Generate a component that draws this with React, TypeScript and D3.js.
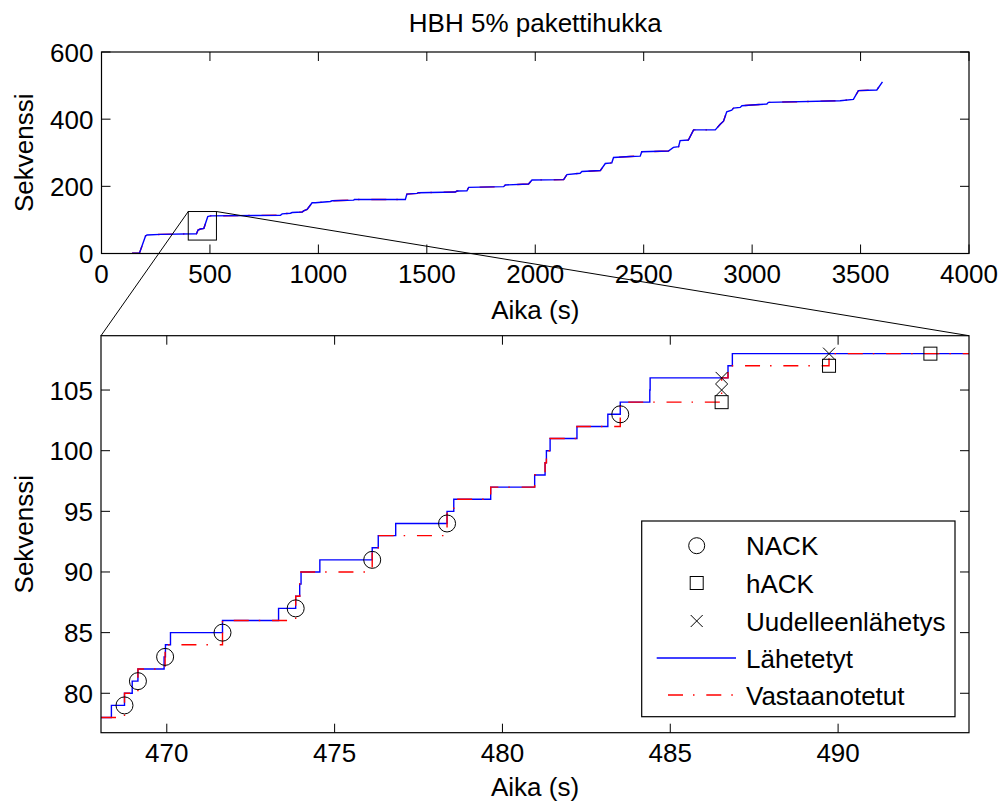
import React from 'react';
import * as d3 from 'd3';

const TITLE = 'HBH 5% pakettihukka';
const X_LABEL = 'Aika (s)';
const Y_LABEL = 'Sekvenssi';

// Overview (top panel): time (s) and sequence number
const overviewTime = [141, 175, 203, 210, 272, 438, 445, 456, 472, 490, 502, 825, 833, 871, 879, 925, 932, 948, 971, 986, 1055, 1063, 1163, 1166, 1401, 1408, 1455, 1462, 1631, 1639, 1685, 1693, 1854, 1862, 1969, 1985, 2131, 2146, 2207, 2215, 2300, 2323, 2353, 2361, 2438, 2484, 2491, 2614, 2637, 2661, 2668, 2706, 2730, 2830, 2853, 2868, 2883, 2906, 2914, 2945, 2953, 2999, 3068, 3075, 3406, 3467, 3490, 3575, 3601];
const overviewSeq = [1, 1, 52, 55, 57, 59, 70, 73, 75, 110, 112, 114, 118, 120, 122, 123.5, 127, 131, 151, 151, 155, 157, 159, 161, 161, 177, 179, 181, 183, 186, 187, 197, 199, 204, 207, 219, 220, 235, 239, 244, 247, 268, 270, 286, 289, 290, 303, 305, 316, 318, 336, 338, 368, 368, 385, 394, 422, 427, 433, 435, 440, 442, 445, 450, 455, 459, 485, 487, 511];

const topXTicks = [0, 500, 1000, 1500, 2000, 2500, 3000, 3500, 4000];
const topYTicks = [0, 200, 400, 600];
const topXDomain = [0, 4000];
const topYDomain = [0, 600];

// Zoom box shown in the overview [x0, x1, y0, y1]
const zoomBox = [400, 530, 40, 125];

// Detail (bottom panel)
const sentTime = [468.04, 468.35, 468.74, 468.97, 469.14, 469.92, 469.96, 470.11, 471.66, 473.33, 473.84, 473.96, 474.0, 474.56, 476.12, 476.3, 476.82, 478.35, 478.55, 479.65, 480.96, 481.27, 481.31, 481.42, 482.22, 483.14, 483.51, 484.39, 484.4, 486.72, 486.85];
const sentSeq = [78, 79, 80, 81, 82, 83, 84, 85, 86, 87, 88, 89, 90, 91, 92, 93, 94, 95, 96, 97, 98, 99, 100, 101, 102, 103, 104, 105, 106, 107, 108];
const recvTime = [468.04, 468.74, 469.14, 469.95, 471.66, 473.84, 473.96, 476.12, 476.3, 478.35, 478.55, 479.65, 480.96, 481.27, 481.31, 481.42, 482.22, 483.51, 486.53, 486.72, 489.73];
const recvSeq = [78, 80, 82, 84, 86, 88, 90, 92, 93, 95, 96, 97, 98, 99, 100, 101, 102, 104, 106, 107, 108];

const nackTime = [468.74, 469.14, 469.95, 471.66, 473.84, 476.12, 478.35, 483.51];
const nackSeq = [79, 81, 83, 85, 87, 91, 94, 103];
const hackTime = [486.53, 489.73, 492.75];
const hackSeq = [104, 107, 108];
const retxTime = [486.53, 486.53, 489.73];
const retxSeq = [105, 106, 108];

const botXTicks = [470, 475, 480, 485, 490];
const botYTicks = [80, 85, 90, 95, 100, 105];
const botXDomain = [468.04, 493.9];
const botYDomain = [76.75, 109.48];

const legendLabels = ['NACK', 'hACK', 'Uudelleenlähetys', 'Lähetetyt', 'Vastaanotetut'];

const FONT = 'Liberation Sans, Arial, Helvetica, sans-serif';
const FS = 26;
const BLUE = '#0000ff';
const RED = '#ff0000';
const DASHDOT = '15 10 1.5 11.8';

const TOP = { left: 101.5, right: 969, top: 52, bottom: 253.5 };
const BOT = { left: 101, right: 969, top: 335.7, bottom: 732.7 };
const TICK = 9;

function Frame({ box, xs, ys, xTicks, yTicks }: any) {
  const els: any[] = [];
  xTicks.forEach((t: number, i: number) => {
    const x = xs(t);
    els.push(<line key={'xb' + i} x1={x} x2={x} y1={box.bottom} y2={box.bottom - TICK} stroke="#000" strokeWidth={1} />);
    els.push(<line key={'xt' + i} x1={x} x2={x} y1={box.top} y2={box.top + TICK} stroke="#000" strokeWidth={1} />);
  });
  yTicks.forEach((t: number, i: number) => {
    const y = ys(t);
    els.push(<line key={'yl' + i} x1={box.left} x2={box.left + TICK} y1={y} y2={y} stroke="#000" strokeWidth={1} />);
    els.push(<line key={'yr' + i} x1={box.right} x2={box.right - TICK} y1={y} y2={y} stroke="#000" strokeWidth={1} />);
  });
  return (
    <g>
      <rect x={box.left} y={box.top} width={box.right - box.left} height={box.bottom - box.top} fill="none" stroke="#000" strokeWidth={1.2} />
      {els}
      {xTicks.map((t: number, i: number) => (
        <text key={'xl' + i} x={xs(t)} y={box.bottom + 29} textAnchor="middle" fontSize={FS} fontFamily={FONT}>{t}</text>
      ))}
      {yTicks.map((t: number, i: number) => (
        <text key={'yt' + i} x={box.left - 8} y={ys(t) + 9.5} textAnchor="end" fontSize={FS} fontFamily={FONT}>{t}</text>
      ))}
    </g>
  );
}

export default function App() {
  // top scales
  const tx = d3.scaleLinear().domain(topXDomain).range([TOP.left, TOP.right]);
  const ty = d3.scaleLinear().domain(topYDomain).range([TOP.bottom, TOP.top]);
  const topPts = overviewTime.map((t, i) => [t, overviewSeq[i]] as [number, number]);
  const topLine = d3.line<[number, number]>().x(d => tx(d[0])).y(d => ty(d[1]));
  const topPath = topLine(topPts) || '';

  // bottom scales
  const bx = d3.scaleLinear().domain(botXDomain).range([BOT.left, BOT.right]);
  const by = d3.scaleLinear().domain(botYDomain).range([BOT.bottom, BOT.top]);
  const stepLine = d3.line<[number, number]>().x(d => bx(d[0])).y(d => by(d[1])).curve(d3.curveStepAfter);
  const sentPts = sentTime.map((t, i) => [t, sentSeq[i]] as [number, number]);
  sentPts.push([botXDomain[1], sentSeq[sentSeq.length - 1]]);
  const recvPts = recvTime.map((t, i) => [t, recvSeq[i]] as [number, number]);
  recvPts.push([botXDomain[1], recvSeq[recvSeq.length - 1]]);
  const sentPath = stepLine(sentPts) || '';
  const recvPath = stepLine(recvPts) || '';

  const zx0 = tx(zoomBox[0]);
  const zx1 = tx(zoomBox[1]);
  const zyTop = ty(zoomBox[3]);
  const zyBot = ty(zoomBox[2]);

  const midX = (BOT.left + BOT.right) / 2;

  // legend
  const LG = { left: 641.7, top: 521, right: 955, bottom: 716.7 };
  const rowY = [545.7, 583, 621, 658, 695];
  const mX = 696.7;
  const textX = 746;

  const cross = (cx: number, cy: number, s: number, key: string) => (
    <path key={key} d={`M${cx - s},${cy - s}L${cx + s},${cy + s}M${cx - s},${cy + s}L${cx + s},${cy - s}`} stroke="#000" strokeWidth={1} fill="none" />
  );

  return (
    <svg width={1003} height={803} style={{ position: 'absolute', left: 0, top: 0, background: '#fff' }} fontFamily={FONT}>
      <rect x={0} y={0} width={1003} height={803} fill="#fff" />
      <defs>
        <clipPath id="clipTop"><rect x={TOP.left} y={TOP.top} width={TOP.right - TOP.left} height={TOP.bottom - TOP.top} /></clipPath>
        <clipPath id="clipBot"><rect x={BOT.left} y={BOT.top} width={BOT.right - BOT.left} height={BOT.bottom - BOT.top} /></clipPath>
      </defs>

      {/* Title */}
      <text x={(TOP.left + TOP.right) / 2} y={31.5} textAnchor="middle" fontSize={FS}>{TITLE}</text>

      {/* Top panel */}
      <g clipPath="url(#clipTop)">
        <path d={topPath} fill="none" stroke={RED} strokeWidth={1.4} strokeDasharray={DASHDOT} />
        <path d={topPath} fill="none" stroke={BLUE} strokeWidth={1.4} />
      </g>
      <Frame box={TOP} xs={tx} ys={ty} xTicks={topXTicks} yTicks={topYTicks} />
      <text x={(TOP.left + TOP.right) / 2} y={319} textAnchor="middle" fontSize={FS}>{X_LABEL}</text>
      <text transform={`translate(33,${(TOP.top + TOP.bottom) / 2}) rotate(-90)`} textAnchor="middle" fontSize={FS}>{Y_LABEL}</text>

      {/* Zoom box */}
      <rect x={zx0} y={zyTop} width={zx1 - zx0} height={zyBot - zyTop} fill="none" stroke="#000" strokeWidth={1} />

      {/* Bottom panel */}
      <g clipPath="url(#clipBot)">
        <path d={sentPath} fill="none" stroke={BLUE} strokeWidth={1.4} />
        <path d={recvPath} fill="none" stroke={RED} strokeWidth={1.4} strokeDasharray={DASHDOT} />
        {nackTime.map((t, i) => (
          <circle key={'n' + i} cx={bx(t)} cy={by(nackSeq[i])} r={8.5} fill="none" stroke="#000" strokeWidth={1} />
        ))}
        {hackTime.map((t, i) => (
          <rect key={'h' + i} x={bx(t) - 6.5} y={by(hackSeq[i]) - 6.5} width={13} height={13} fill="none" stroke="#000" strokeWidth={1} />
        ))}
        {retxTime.map((t, i) => cross(bx(t), by(retxSeq[i]), 6, 'r' + i))}
      </g>
      <Frame box={BOT} xs={bx} ys={by} xTicks={botXTicks} yTicks={botYTicks} />
      <text x={midX} y={796} textAnchor="middle" fontSize={FS}>{X_LABEL}</text>
      <text transform={`translate(33,${(BOT.top + BOT.bottom) / 2}) rotate(-90)`} textAnchor="middle" fontSize={FS}>{Y_LABEL}</text>

      {/* Connector lines */}
      <line x1={zx0} y1={zyTop} x2={BOT.left} y2={BOT.top} stroke="#000" strokeWidth={1} />
      <line x1={zx1} y1={zyTop} x2={BOT.right} y2={BOT.top} stroke="#000" strokeWidth={1} />

      {/* Legend */}
      <rect x={LG.left} y={LG.top} width={LG.right - LG.left} height={LG.bottom - LG.top} fill="#fff" stroke="#000" strokeWidth={1.2} />
      <circle cx={mX} cy={rowY[0]} r={8} fill="none" stroke="#000" strokeWidth={1} />
      <rect x={mX - 6.5} y={rowY[1] - 6.5} width={13} height={13} fill="none" stroke="#000" strokeWidth={1} />
      {cross(mX, rowY[2], 6, 'lx')}
      <line x1={656.7} x2={736} y1={rowY[3]} y2={rowY[3]} stroke={BLUE} strokeWidth={1.4} />
      <line x1={656.7} x2={736} y1={rowY[4]} y2={rowY[4]} stroke={RED} strokeWidth={1.4} strokeDasharray={DASHDOT} strokeDashoffset={-11.3} />
      {legendLabels.map((l, i) => (
        <text key={'lg' + i} x={textX} y={rowY[i] + 9.5} fontSize={FS}>{l}</text>
      ))}
    </svg>
  );
}
